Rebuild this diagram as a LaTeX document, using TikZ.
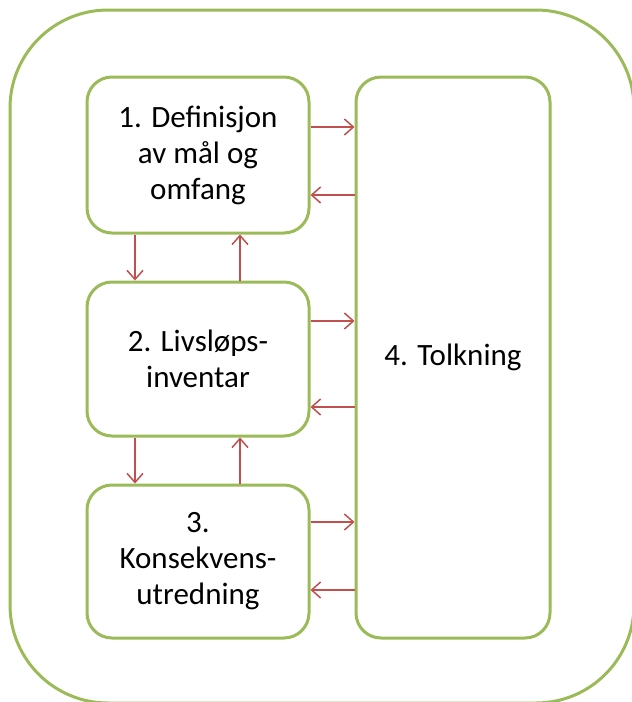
\documentclass[tikz,border=0pt]{standalone}
\usepackage{fontspec}
\setmainfont{Carlito}
\usetikzlibrary{arrows.meta}

\definecolor{gronn}{RGB}{155,187,89}
\definecolor{rod}{RGB}{192,80,77}

\tikzset{
  boks/.style={draw=gronn, line width=3pt, rounded corners=25pt, align=center,
    inner sep=0pt, font=\fontsize{31}{36}\selectfont},
  pil/.style={draw=rod, line width=1.5pt, -{Straight Barb[length=9pt,width=16pt]}}
}

\begin{document}
\begin{tikzpicture}[x=1pt,y=-1pt]

\useasboundingbox (0,0) rectangle (632,702);
\clip (0,0) rectangle (632,702);

% Ramme
\draw[gronn, line width=3pt, rounded corners=98pt] (10,10) rectangle (634,703);

% Faser
\node[boks, minimum width=222pt, minimum height=156pt] (def) at (198,155) {1. Definisjon\\av mål og\\omfang};
\node[boks, minimum width=222pt, minimum height=154pt] (inv) at (198,359) {2. Livsløps-\\inventar};
\node[boks, minimum width=222pt, minimum height=153pt] (kon) at (198,561.5) {3.\\Konsekvens-\\utredning};
\node[boks, minimum width=194pt, minimum height=561pt] (tolk) at (453,357.5) {4. Tolkning};

% Mellom fasene
\draw[pil] (def.south -| 135,0) -- (inv.north -| 135,0);
\draw[pil] (inv.north -| 240,0) -- (def.south -| 240,0);
\draw[pil] (inv.south -| 135,0) -- (kon.north -| 135,0);
\draw[pil] (kon.north -| 240,0) -- (inv.south -| 240,0);

% Mot tolkning
\draw[pil] (def.east |- 0,127) -- (tolk.west |- 0,127);
\draw[pil] (tolk.west |- 0,195) -- (def.east |- 0,195);
\draw[pil] (inv.east |- 0,321) -- (tolk.west |- 0,321);
\draw[pil] (tolk.west |- 0,407) -- (inv.east |- 0,407);
\draw[pil] (kon.east |- 0,522) -- (tolk.west |- 0,522);
\draw[pil] (tolk.west |- 0,590) -- (kon.east |- 0,590);

\end{tikzpicture}
\end{document}
